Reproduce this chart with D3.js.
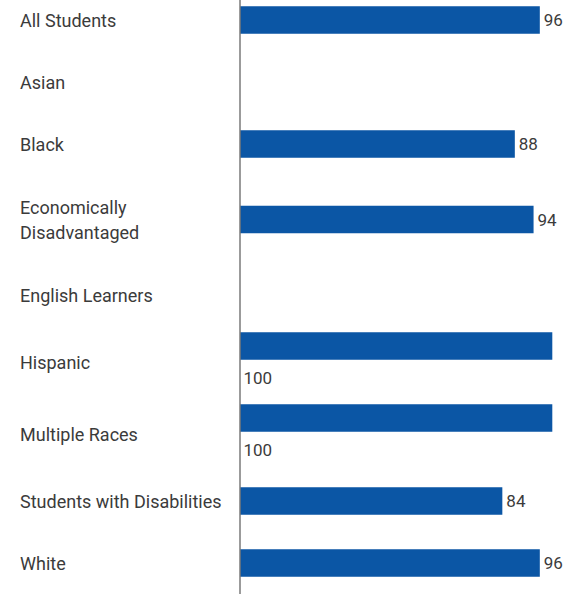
<!DOCTYPE html>
<html>
<head>
<meta charset="utf-8">
<script src="https://cdn.jsdelivr.net/npm/d3@7"></script>
<style>
  html, body { margin: 0; padding: 0; background: #fff; }
  svg { display: block; font-family: Roboto, "Noto Sans", sans-serif; }
</style>
</head>
<body>
<svg id="chart" width="575" height="596"></svg>
<script>
// Student groups and their rates (null = no reported value)
const categories = [
  "All Students", "Asian", "Black", "Economically Disadvantaged",
  "English Learners", "Hispanic", "Multiple Races",
  "Students with Disabilities", "White"
];
const values = [96, null, 88, 94, null, 100, 100, 84, 96];
// Category labels broken into display lines
const labelLines = [
  ["All Students"], ["Asian"], ["Black"], ["Economically", "Disadvantaged"],
  ["English Learners"], ["Hispanic"], ["Multiple Races"],
  ["Students with Disabilities"], ["White"]
];

const width = 575, height = 596;
const axisX = 240, maxX = 552.3;
const barH = 27.5;
const labelFont = 18, valueFont = 17;
const textColor = "#3b3b3b";
const barColor = "#0b56a5";

const svg = d3.select("#chart");

const x = d3.scaleLinear().domain([0, 100]).range([axisX, maxX]);

// Rough text width for Roboto digits, used to decide whether a value label fits beside its bar
const valueWidth = v => String(v).length * valueFont * 0.5615;
const below = values.map(v => v != null && x(v) + 4 + valueWidth(v) > width);

// Row heights grow with wrapped labels and with value labels placed under the bar
const baseRow = 62, extraLine = 27, extraBelow = 10;
const rowHeights = categories.map((c, i) =>
  baseRow + (labelLines[i].length - 1) * extraLine + (below[i] ? extraBelow : 0));
const startY = 20 - baseRow / 2;
const centers = [];
let acc = startY;
rowHeights.forEach(h => { centers.push(acc + h / 2); acc += h; });

const y = d3.scaleOrdinal().domain(categories).range(centers);

const rows = categories.map((c, i) => ({ c, v: values[i], lines: labelLines[i], below: below[i] }));

// Category labels
const lab = svg.append("g").selectAll("text").data(rows).join("text")
  .attr("x", 20)
  .attr("y", d => y(d.c))
  .attr("fill", textColor)
  .attr("font-size", labelFont)
  .attr("dominant-baseline", "central");
lab.selectAll("tspan").data(d => d.lines.map((t, j) => ({ t, j, n: d.lines.length })))
  .join("tspan")
  .attr("x", 20)
  .attr("dy", d => d.j === 0 ? -(d.n - 1) * 12.5 : 25)
  .text(d => d.t);

const barCenter = d => d.below ? y(d.c) - 16 : y(d.c);

// Bars
const withVal = rows.filter(d => d.v != null);
svg.append("g").selectAll("rect").data(withVal).join("rect")
  .attr("x", x(0))
  .attr("y", d => barCenter(d) - barH / 2)
  .attr("width", d => x(d.v) - x(0))
  .attr("height", barH)
  .attr("fill", barColor);

// Value labels: beside the bar, or under it when there is no room
svg.append("g").selectAll("text").data(withVal).join("text")
  .attr("x", d => d.below ? x(0) + 3.5 : x(d.v) + 4)
  .attr("y", d => d.below ? barCenter(d) + barH / 2 + 18 : barCenter(d))
  .attr("dominant-baseline", "central")
  .attr("fill", textColor)
  .attr("font-size", valueFont)
  .text(d => d.v);

// Vertical baseline axis
svg.append("line")
  .attr("x1", axisX).attr("x2", axisX)
  .attr("y1", 0).attr("y2", 594)
  .attr("stroke", "#7a7a7a")
  .attr("stroke-width", 1.5);
</script>
</body>
</html>
